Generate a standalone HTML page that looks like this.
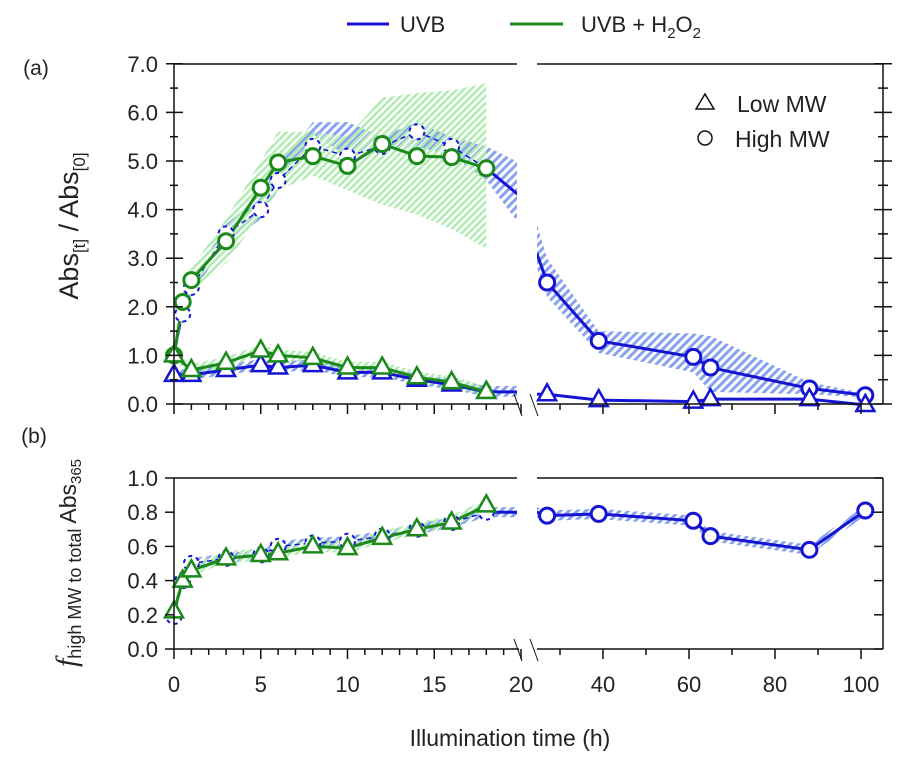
<!DOCTYPE html>
<html><head><meta charset="utf-8"><style>
body{margin:0;background:#fff;}
svg{font-family:"Liberation Sans",sans-serif;}
</style></head><body>
<svg id="chart" width="905" height="764" viewBox="0 0 905 764" xmlns="http://www.w3.org/2000/svg">
<defs>
<pattern id="hb" patternUnits="userSpaceOnUse" width="6" height="6" patternTransform="rotate(45)"><rect width="3" height="6" fill="#87a2ee"/></pattern>
<pattern id="hg" patternUnits="userSpaceOnUse" width="5" height="5" patternTransform="rotate(45)"><rect width="2.5" height="5" fill="#b0ecb0"/></pattern>
<clipPath id="clipL"><rect x="174" y="40" width="343" height="640"/></clipPath>
<clipPath id="clipR"><rect x="537" y="40" width="360" height="640"/></clipPath>
</defs>
<g id="bands"></g><g id="lines"></g><g id="marks"></g><g id="axes"></g>
</svg>
<script>
// ---- data ----
const tL = [0,0.5,1,3,5,6,8,10,12,14,16,18,20];
const tR = [24.6,27,39,61,65,88,101];
const tG = [0,0.5,1,3,5,6,8,10,12,14,16,18];
const tLowG = [0,1,3,5,6,8,10,12,14,16,18];
const tLowB = [0,1,3,5,6,8,10,12,14,16,18,20];
// panel a high MW
const blueHighL = [1.0,1.85,2.4,3.5,4.0,4.6,5.3,5.1,5.3,5.6,5.3,4.85,4.26];
const blueHighR = [3.1,2.5,1.3,0.97,0.75,0.32,0.18];
const blueHighUpL = [1.1,2.0,2.55,3.7,4.3,4.9,5.8,5.8,5.5,5.8,5.5,5.3,4.95];
const blueHighLoL = [0.9,1.7,2.25,3.3,3.8,4.4,5.55,5.1,5.2,5.3,5.1,4.6,3.65];
const blueHighUpR = [3.7,3.0,1.5,1.45,1.4,0.45,0.22];
const blueHighLoR = [2.8,2.2,1.05,0.65,0.25,0.2,0.14];
const greenHigh = [1.0,2.1,2.55,3.35,4.45,4.97,5.1,4.9,5.35,5.1,5.08,4.85];
const greenHighUp = [1.1,2.3,2.8,3.8,5.0,5.6,5.6,5.5,6.3,6.4,6.45,6.6];
const greenHighLo = [0.9,1.9,2.3,2.9,3.9,4.4,4.7,4.4,4.1,3.9,3.6,3.2];
// panel a low MW
const greenLow = [1.0,0.7,0.85,1.1,1.0,0.95,0.75,0.75,0.55,0.45,0.25];
const blueLowL = [0.6,0.6,0.7,0.8,0.75,0.8,0.65,0.65,0.5,0.4,0.25,0.25];
const blueLowR = [0.2,0.2,0.08,0.05,0.1,0.1,-0.02];
// panel b fraction
const greenFrac = [0.22,0.4,0.46,0.53,0.55,0.56,0.6,0.59,0.65,0.7,0.74,0.84];
const blueFracL = [0.19,0.4,0.5,0.53,0.55,0.6,0.62,0.63,0.66,0.7,0.74,0.8,0.8];
const blueFracR = [0.8,0.78,0.79,0.75,0.66,0.58,0.81];
const yTicksA = ["0.0","1.0","2.0","3.0","4.0","5.0","6.0","7.0"];
const yTicksB = ["0.0","0.2","0.4","0.6","0.8","1.0"];
const xTicksL = [0,5,10,15,20];
const xTicksR = [40,60,80,100];

// ---- scales ----
const xs = h => h <= 20.5 ? 174 + h*17.35 : 603 + (h-40)*4.3;
const ya = v => 404 - v*48.6;
const yb = v => 649 - v*171;
const NS = "http://www.w3.org/2000/svg";
const BLUE = "#1414d2", GREEN = "#1b8a1b";
function mk(tag, attrs, parent){const e=document.createElementNS(NS,tag);for(const k in attrs)e.setAttribute(k,attrs[k]);document.getElementById(parent).appendChild(e);return e;}
function pts(ts, vs, ys){return ts.map((t,i)=>xs(t).toFixed(1)+","+ys(vs[i]).toFixed(1)).join(" ");}

function band(ts, up, lo, ys, fill, clip, name){
  const d = pts(ts,up,ys)+" "+pts(ts.slice().reverse(), lo.slice().reverse(), ys);
  const p = mk("polygon",{points:d,fill:fill,"clip-path":"url(#"+clip+")"},"bands");
  
  
}
function line(ts, vs, ys, color, clip, name, dash){
  const a = {points:pts(ts,vs,ys),fill:"none",stroke:color,"stroke-width":dash?1.5:3,"clip-path":"url(#"+clip+")"};
  if(dash) a["stroke-dasharray"]="5,4";
  const p = mk("polyline",a,"lines");
  
  
}
function circles(ts, vs, ys, color, name, dash){
  ts.forEach((t,i)=>{ if (t>20.5 && t<25) return; if(t===20) return;
    const a = {cx:xs(t),cy:ys(vs[i]),r:7.5,fill:"#fff",stroke:color,"stroke-width":dash?2:3};
    if(dash) a["stroke-dasharray"]="4,4";
    const c = mk("circle",a,"marks");
    
    
  });
}
function tris(ts, vs, ys, color, name){
  ts.forEach((t,i)=>{ if(t===20 || (t>20.5&&t<25)) return;
    const x=xs(t), y=ys(vs[i]);
    const p = mk("polygon",{points:`${x},${y-10} ${x-9},${y+6} ${x+9},${y+6}`,fill:"#fff",stroke:color,"stroke-width":2.5},"marks");
    
    
  });
}
const lowBand = (v,d)=>v.map(x=>x+d);
band(tL, blueHighUpL, blueHighLoL, ya, "url(#hb)", "clipL", "uvb-high-mw-band");
band(tR, blueHighUpR, blueHighLoR, ya, "url(#hb)", "clipR", "uvb-high-mw-band-right");
band(tG, greenHighUp, greenHighLo, ya, "url(#hg)", "clipL", "uvb-h2o2-high-mw-band");
band(tLowB, lowBand(blueLowL,0.12), lowBand(blueLowL,-0.1), ya, "url(#hb)", "clipL", "uvb-low-mw-band");
band(tLowG, lowBand(greenLow,0.12), lowBand(greenLow,-0.1), ya, "url(#hg)", "clipL", "uvb-h2o2-low-mw-band");
band(tL, lowBand(blueFracL,0.03), lowBand(blueFracL,-0.03), yb, "url(#hb)", "clipL", "uvb-fraction-band");
band(tR, lowBand(blueFracR,0.03), lowBand(blueFracR,-0.03), yb, "url(#hb)", "clipR", "uvb-fraction-band-right");
band(tG, lowBand(greenFrac,0.04), lowBand(greenFrac,-0.03), yb, "url(#hg)", "clipL", "uvb-h2o2-fraction-band");
// blue series
line(tL.slice(0,12), blueHighL.slice(0,12), ya, BLUE, "clipL", "uvb-high-mw-line", true);
line(tL.slice(11), blueHighL.slice(11), ya, BLUE, "clipL", "uvb-high-mw-line-end");
line(tR, blueHighR, ya, BLUE, "clipR", "uvb-high-mw-line-right");
line(tLowB, blueLowL, ya, BLUE, "clipL", "uvb-low-mw-line");
line(tR, blueLowR, ya, BLUE, "clipR", "uvb-low-mw-line-right");
line(tL, blueFracL, yb, BLUE, "clipL", "uvb-fraction-line", true);
line(tL.slice(11), blueFracL.slice(11), yb, BLUE, "clipL", "uvb-fraction-line-end");
line(tR, blueFracR, yb, BLUE, "clipR", "uvb-fraction-line-right");
circles(tL, blueHighL, ya, BLUE, "uvb-high-mw-point", true);
circles(tR, blueHighR, ya, BLUE, "uvb-high-mw-point");
tris(tLowB, blueLowL, ya, BLUE, "uvb-low-mw-point");
tris(tR, blueLowR, ya, BLUE, "uvb-low-mw-point");
circles(tL, blueFracL, yb, BLUE, "uvb-fraction-point", true);
circles(tR, blueFracR, yb, BLUE, "uvb-fraction-point");
// green series
line(tG, greenHigh, ya, GREEN, "clipL", "uvb-h2o2-high-mw-line");
line(tLowG, greenLow, ya, GREEN, "clipL", "uvb-h2o2-low-mw-line");
line(tG, greenFrac, yb, GREEN, "clipL", "uvb-h2o2-fraction-line");
circles(tG, greenHigh, ya, GREEN, "uvb-h2o2-high-mw-point");
tris(tLowG, greenLow, ya, GREEN, "uvb-h2o2-low-mw-point");
tris(tG, greenFrac, yb, GREEN, "uvb-h2o2-fraction-point");

// axes
function L(x1,y1,x2,y2,w){mk("line",{x1,y1,x2,y2,stroke:"#111","stroke-width":w||1.5},"axes");}
function T(x,y,s,anchor,size,name){const e=mk("text",{x,y,"text-anchor":anchor||"middle","font-size":size||20,fill:"#222"},"axes");e.textContent=s;return e;}
L(174,64,174,404); L(883,64,883,404);
L(174,64,517,64); L(537,64,883,64);
L(174,404,519,404); L(537,404,883,404);
for(let i=0;i<=14;i++){const y=ya(i*0.5); const maj=i%2===0;
  L(maj?166:170,y,maj?183:178,y); L(maj?874:878,y,maj?892:888,y);}
yTicksA.forEach((s,i)=>T(158,ya(i)+8,s,"end",22,"y-tick-label-a"));
L(174,478,174,649); L(883,478,883,649);
L(174,478,517,478); L(537,478,883,478);
L(174,649,519,649); L(537,649,883,649);
for(let i=0;i<=5;i++){const y=yb(i*0.2); L(165,y,174,y); L(874,y,883,y);}
yTicksB.forEach((s,i)=>T(158,yb(i*0.2)+8,s,"end",22,"y-tick-label-b"));
[404,649].forEach(y0=>{
  for(let h=0;h<=20;h++){ L(xs(h),y0,xs(h),y0+(h%5===0?10:6)); }
  for(let h=30;h<=100;h+=10){ L(xs(h),y0,xs(h),y0+(h%20===0?10:6)); }
  L(514,y0-10,522,y0+12,1); L(530,y0-10,538,y0+12,1);
});
xTicksL.forEach(h=>T(xs(h),692,String(h),"middle",22,"x-tick-label"));
xTicksR.forEach(h=>T(xs(h),692,String(h),"middle",22,"x-tick-label"));
T(510,746,"Illumination  time (h)","middle",23,"x-axis-title");
T(36,75,"(a)","middle",21,"panel-a-label");
T(34,443,"(b)","middle",21,"panel-b-label");
const ta = T(0,0,"","middle",27,"y-axis-title-a"); ta.setAttribute("transform","translate(78,226) rotate(-90)");
ta.innerHTML='Abs<tspan font-size="17" dy="7">[t]</tspan><tspan dy="-7"> / Abs</tspan><tspan font-size="17" dy="7">[0]</tspan>';
const tb = T(0,0,"","middle",23,"y-axis-title-b"); tb.setAttribute("transform","translate(76,563) rotate(-90)");
tb.innerHTML='<tspan font-family="Liberation Serif" font-style="italic" font-size="30">f</tspan><tspan font-size="18" dy="5">high MW to  total </tspan><tspan dy="-5">Abs</tspan><tspan font-size="15" dy="5">365</tspan>';
const lg1 = mk("line",{x1:347,y1:24,x2:389,y2:24,stroke:BLUE,"stroke-width":3},"axes");


T(400,32,"UVB","start",22,"legend-uvb-label");
const lg2 = mk("line",{x1:510,y1:24,x2:563,y2:24,stroke:GREEN,"stroke-width":3},"axes");


const lt = T(581,32,"","start",22,"legend-uvb-h2o2-label");
lt.innerHTML='UVB + H<tspan font-size="15" dy="6">2</tspan><tspan dy="-6">O</tspan><tspan font-size="15" dy="6">2</tspan>';
const mt = mk("polygon",{points:"705,94 696,109 714,109",fill:"#fff",stroke:"#111","stroke-width":1.5},"axes");


T(737,112,"Low MW","start",23,"legend-low-mw-label");
const mc = mk("circle",{cx:705,cy:138,r:7,fill:"#fff",stroke:"#111","stroke-width":1.5},"axes");


T(735,147,"High MW","start",23,"legend-high-mw-label");
</script>
</body></html>
